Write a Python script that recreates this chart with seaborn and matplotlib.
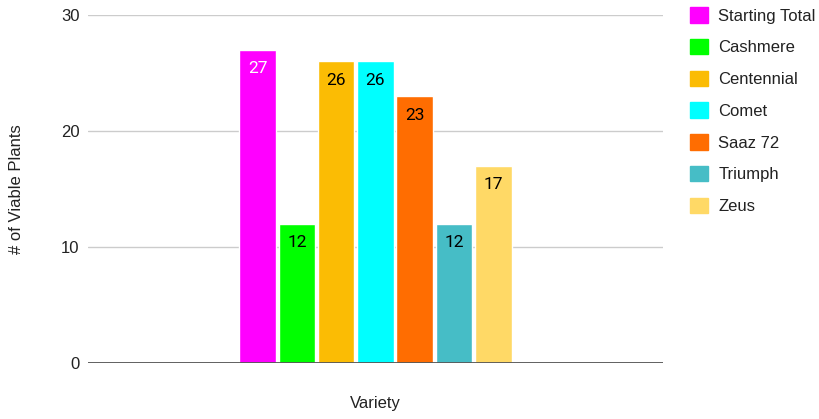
import pandas as pd
import matplotlib.pyplot as plt
from matplotlib.patches import Patch
import seaborn as sns

varieties = ["Starting Total", "Cashmere", "Centennial", "Comet", "Saaz 72", "Triumph", "Zeus"]
plants = [27, 12, 26, 26, 23, 12, 17]
colors = ["#ff00ff", "#00ff00", "#fbbc04", "#00ffff", "#ff6d01", "#46bdc6", "#ffd966"]
label_colors = ["white", "black", "black", "black", "black", "black", "black"]

df = pd.DataFrame({"group": [""] * len(varieties), "variety": varieties, "plants": plants})

sns.set_style("white")
plt.rcParams["font.family"] = ["Liberation Sans", "DejaVu Sans"]

fig = plt.figure(figsize=(8.2, 4.19), dpi=100)
ax = fig.add_axes([0.1073, 0.134, 0.7012, 0.830])

sns.barplot(data=df, x="group", y="plants", hue="variety", hue_order=varieties,
            palette=colors, width=0.478, gap=0.07, saturation=1, ax=ax, legend=False)

# value labels inside the top of each bar
for cont, lc in zip(ax.containers, label_colors):
    ax.bar_label(cont, fmt="%d", padding=-19, color=lc, fontsize=12.5, family="Roboto")

ax.set_xlim(-0.5, 0.5)
ax.set_ylim(0, 30)
ax.set_yticks([0, 10, 20, 30])
ax.yaxis.grid(True, color="#cccccc", linewidth=1)
ax.set_axisbelow(True)
ax.axhline(0, color="#555555", linewidth=1.3)
for s in ax.spines.values():
    s.set_visible(False)
ax.set_xticks([])
ax.tick_params(axis="y", length=0, pad=6, labelsize=12, labelcolor="#222222")
ax.set_xlabel("Variety", fontsize=12, labelpad=24, color="#222222")
ax.set_ylabel("# of Viable Plants", fontsize=12, labelpad=27, color="#222222")

handles = [Patch(facecolor=c, edgecolor=c) for c in colors]
fig.legend(handles, varieties, loc="upper left", bbox_to_anchor=(0.8415, 0.983),
           frameon=False, fontsize=12, handlelength=1.05, handleheight=1.05,
           labelspacing=0.92, handletextpad=0.65, borderpad=0, borderaxespad=0,
           labelcolor="#222222")

fig.savefig("out.png", dpi=100)
